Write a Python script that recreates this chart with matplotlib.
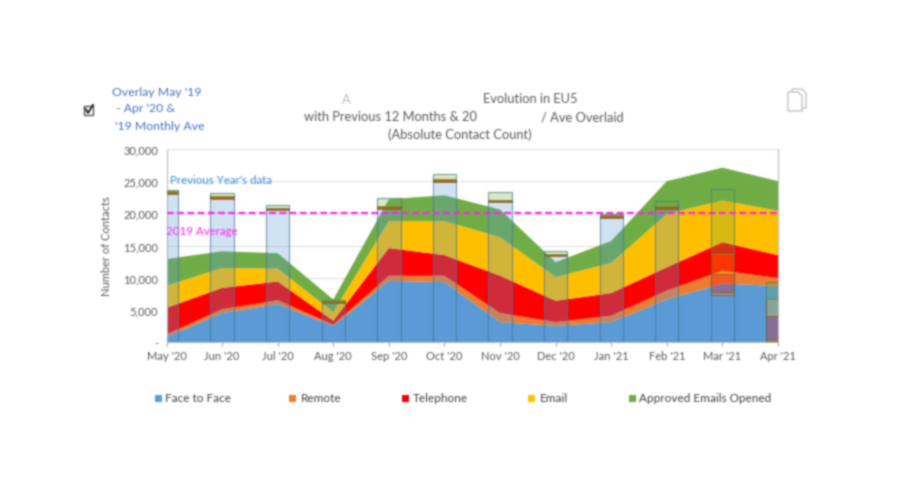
import numpy as np
import matplotlib
matplotlib.use("Agg")
import matplotlib.pyplot as plt
from matplotlib.patches import Rectangle, Polygon
from matplotlib.lines import Line2D
from matplotlib.colors import to_rgba

plt.rcParams['font.family'] = ['Lato', 'DejaVu Sans']

months = ["May '20", "Jun '20", "Jul '20", "Aug '20", "Sep '20", "Oct '20",
          "Nov '20", "Dec '20", "Jan '21", "Feb '21", "Mar '21", "Apr '21"]
names = ["Face to Face", "Remote", "Telephone", "Email", "Approved Emails Opened"]
colors = ["#5b9bd5", "#ed7d31", "#ff0000", "#ffc000", "#70ad47"]

# current 12 months
face = [800, 4500, 5900, 2500, 9500, 9300, 3100, 2500, 3100, 6600, 9100, 8700]
remote = [400, 600, 600, 200, 800, 1000, 1400, 600, 1000, 1400, 2000, 1250]
telephone = [4100, 3300, 2900, 600, 4300, 3200, 5800, 3300, 3500, 3600, 4400, 3550]
email = [3450, 3100, 2000, 1350, 4200, 5300, 6000, 3700, 4700, 8300, 6500, 6900]
approved = [4150, 2600, 2400, 1950, 3400, 4000, 4300, 2300, 3400, 5100, 5100, 4600]

# previous year overlay, May '19 - Apr '20
prev_face = [23000, 22300, 20500, 6000, 20700, 24900, 21700, 13300, 19300, 20700, 7300, 200]
prev_remote = [150, 150, 150, 150, 150, 150, 150, 150, 150, 150, 500, 200]
prev_telephone = [150, 150, 150, 150, 150, 150, 150, 150, 150, 150, 2800, 3700]
prev_email = [100, 100, 100, 100, 100, 100, 100, 100, 100, 100, 3100, 2550]
prev_approved = [200, 500, 400, 200, 1300, 800, 1200, 500, 200, 800, 10100, 2650]
avg_2019 = 20000


def fx(px):
    return px / 902


def fy(py):
    return 1 - py / 502


# the source picture is a soft, upscaled screenshot
def soften(img, dpi, sigma=0.8, pad=4):
    img = np.pad(img, ((pad, pad), (pad, pad), (0, 0)))
    r = np.arange(-3, 4)
    k = np.exp(-r ** 2 / (2 * sigma ** 2))
    k = k / k.sum()
    a = img[..., 3:]
    pm = np.concatenate([img[..., :3] * a, a], axis=2)
    for axis in (0, 1):
        pm = np.apply_along_axis(lambda v: np.convolve(v, k, mode="same"), axis, pm)
    a = pm[..., 3:]
    rgb = np.where(a > 0, pm[..., :3] / np.maximum(a, 1e-6), 0)
    return np.clip(np.concatenate([rgb, a], axis=2), 0, 1), -pad, -pad


fig = plt.figure(figsize=(9.02, 5.02), dpi=100)
ax = fig.add_axes([fx(166.5), fy(343), (778 - 166.5) / 902, 193 / 502])

x = np.arange(len(months))
ax.stackplot(x, face, remote, telephone, email, approved, colors=colors, linewidth=0, zorder=2)

bottom = np.zeros(len(months))
prev = [prev_face, prev_remote, prev_telephone, prev_email, prev_approved]
edges = [(0.36, 0.61, 0.84, 0.5), (0.6, 0.38, 0.1, 0.8), (0.6, 0.38, 0.1, 0.8), (0.6, 0.38, 0.1, 0.8),
         (0.44, 0.68, 0.28, 0.5)]
for vals, c, e in zip(prev, colors, edges):
    ax.bar(x, vals, 0.42, bottom=bottom, color=to_rgba(c, 0.28), edgecolor=e, linewidth=0.7, zorder=3)
    bottom += np.array(vals)
# dark outline round each overlay column
ax.bar(x, bottom, 0.42, fill=False, edgecolor=(0.2, 0.35, 0.45, 0.38), linewidth=0.9, zorder=4)

ax.axhline(avg_2019, color="#ff22ee", linestyle=(0, (3, 1.6)), linewidth=1.6, zorder=5)

ax.set_xlim(0, 11)
ax.set_ylim(0, 30000)
ax.set_xticks(x)
ax.set_xticklabels(months, fontsize=8, color="#595959")
ax.set_yticks(np.arange(0, 30001, 5000))
ax.set_yticklabels(["-"] + [f"{v:,}" for v in range(5000, 30001, 5000)], fontsize=8, color="#595959")
ax.grid(axis="y", color="#e2e2e2", linewidth=0.8, zorder=0)
ax.set_axisbelow(True)
ax.tick_params(axis="x", length=3, color="#a6a6a6", pad=3)
ax.tick_params(axis="y", length=0, pad=6)
for side in ["left", "bottom", "right"]:
    ax.spines[side].set_color("#bfbfbf")
ax.spines["top"].set_color("#e2e2e2")
ax.set_ylabel("Number of Contacts", fontsize=8, color="#595959", labelpad=8)

ax.text(0.07, 25300, "Previous Year's data", color="#3f8fcf", fontsize=8.3, va="center", zorder=6)
ax.text(0.0, 17400, "2019 Average", color="#ff22ee", fontsize=8.3, va="center", zorder=6)
ax.set_agg_filter(soften)

# title, partly covered in the source
title_color = "#595959"
extras = [
    fig.text(fx(342), fy(100), "A", color="#bbbbbb", fontsize=9.3, va="center"),
    fig.text(fx(483), fy(99), "Evolution in EU5", color=title_color, fontsize=9.3, va="center"),
    fig.text(fx(304), fy(117), "with Previous 12 Months & 20", color=title_color, fontsize=9.3, va="center"),
    fig.text(fx(541), fy(117), "/ Ave Overlaid", color=title_color, fontsize=9.3, va="center"),
    fig.text(fx(460), fy(135), "(Absolute Contact Count)", color=title_color, fontsize=9.3, va="center", ha="center"),
]

# overlay toggle
for txt, px, py in [("Overlay May '19", 112, 92), (" - Apr '20 &", 113, 109), ("'19 Monthly Ave", 115, 126)]:
    extras.append(fig.text(fx(px), fy(py), txt, color="#4472c4", fontsize=8.8, va="center"))
extras.append(fig.add_artist(Rectangle((fx(84), fy(116)), 9 / 902, 9 / 502, fill=False, edgecolor="#555555",
                                       linewidth=1, transform=fig.transFigure)))
extras.append(fig.add_artist(Line2D([fx(85.5), fx(88), fx(93)], [fy(110), fy(114), fy(106)], color="#222222",
                                    linewidth=1.4, transform=fig.transFigure)))

# copy icon
back = [(792, 90), (802, 90), (806, 94), (806, 109), (792, 109)]
front = [(788, 93), (798, 93), (802, 97), (802, 112), (788, 112)]
for pts in [back, front]:
    extras.append(fig.add_artist(Polygon([(fx(a), fy(b)) for a, b in pts], closed=True, facecolor="white",
                                         edgecolor="#c4c4c4", linewidth=1, transform=fig.transFigure)))

# legend
legend_marks = [155, 289, 402, 528, 629]
legend_texts = [165, 301, 413, 540, 639]
for name, c, mx, tx in zip(names, colors, legend_marks, legend_texts):
    extras.append(fig.add_artist(Rectangle((fx(mx), fy(403)), 7 / 902, 7 / 502, facecolor=c, edgecolor="none",
                                           transform=fig.transFigure)))
    extras.append(fig.text(fx(tx), fy(399), name, color="#404040", fontsize=8.5, va="center"))

for a in extras:
    a.set_agg_filter(soften)

fig.savefig("out.png", dpi=100, facecolor="white")
